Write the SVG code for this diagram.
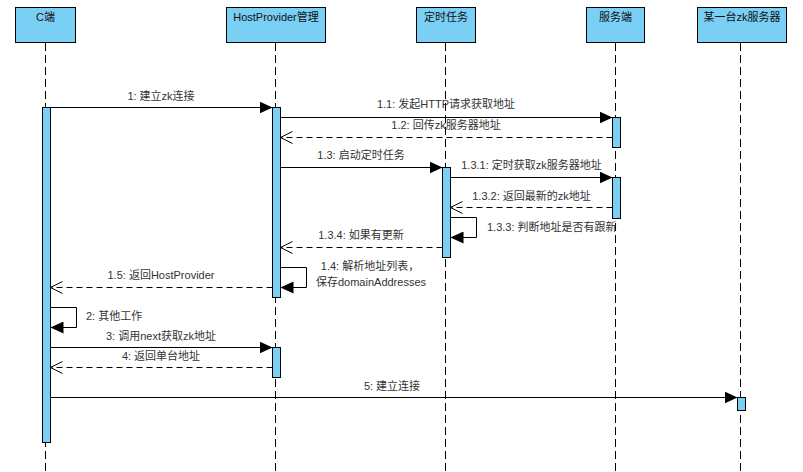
<svg xmlns="http://www.w3.org/2000/svg" width="803" height="472" viewBox="0 0 803 472">
<style>
.box{fill:#7ACFF5;stroke:#000;stroke-width:1}
.bar{fill:#7ACFF5;stroke:#000;stroke-width:1}
.life{stroke:#000;stroke-width:1;stroke-dasharray:8,4;fill:none}
.msg{stroke:#000;stroke-width:1;fill:none}
.ret{stroke:#000;stroke-width:1;fill:none;stroke-dasharray:6,4}
text{font-family:"Liberation Sans","Noto Sans CJK SC",sans-serif;font-size:11px;fill:#333}
.c{text-anchor:middle}
.h{text-anchor:middle;fill:#111}
</style>
<defs>
<marker id="fa" viewBox="0 0 13 12" refX="13" refY="6" markerWidth="13" markerHeight="12" orient="auto" markerUnits="userSpaceOnUse"><path d="M0,0 L13,6 L0,12 Z" fill="#000"/></marker>
<marker id="oa" viewBox="-1 -1 14 14" refX="12" refY="6" markerWidth="14" markerHeight="14" orient="auto" markerUnits="userSpaceOnUse"><path d="M0,0 L12,6 L0,12" fill="none" stroke="#000" stroke-width="1"/></marker>
</defs>
<rect width="803" height="472" fill="#fff"/>
<g id="lifelines">
<line class="life" x1="45.5" y1="43" x2="45.5" y2="472"/>
<line class="life" x1="275.5" y1="43" x2="275.5" y2="472"/>
<line class="life" x1="445.5" y1="43" x2="445.5" y2="472"/>
<line class="life" x1="615.5" y1="43" x2="615.5" y2="472"/>
<line class="life" x1="740.5" y1="43" x2="740.5" y2="472"/>
</g>
<g id="node-c"><rect class="box" x="15.5" y="7.5" width="60" height="35"/><text class="h" x="45.5" y="21">C端</text><rect class="bar" x="42.5" y="107.5" width="8" height="335"/></g>
<g id="node-hostprovider"><rect class="box" x="226.5" y="7.5" width="99" height="35"/><text class="h" x="276" y="21">HostProvider管理</text><rect class="bar" x="272.5" y="107.5" width="8" height="190"/><rect class="bar" x="272.5" y="347.5" width="8" height="30"/></g>
<g id="node-timer"><rect class="box" x="416.5" y="7.5" width="59" height="35"/><text class="h" x="446" y="21">定时任务</text><rect class="bar" x="442.5" y="167.5" width="8" height="90"/></g>
<g id="node-server"><rect class="box" x="586.5" y="7.5" width="58" height="35"/><text class="h" x="615.5" y="21">服务端</text><rect class="bar" x="612.5" y="117.5" width="8" height="30"/><rect class="bar" x="612.5" y="177.5" width="8" height="41"/></g>
<g id="node-zkserver"><rect class="box" x="697.5" y="7.5" width="89" height="35"/><text class="h" x="742" y="21">某一台zk服务器</text><rect class="bar" x="737.5" y="397.5" width="8" height="13"/></g>
<g id="connectors">
<line class="msg" x1="50.5" y1="107.5" x2="272.5" y2="107.5" marker-end="url(#fa)"/>
<text class="c" x="161" y="100">1: 建立zk连接</text>
<line class="msg" x1="280.5" y1="117.5" x2="612.5" y2="117.5" marker-end="url(#fa)"/>
<text class="c" x="446" y="108">1.1: 发起HTTP请求获取地址</text>
<line class="ret" x1="612.5" y1="137.5" x2="280.5" y2="137.5" marker-end="url(#oa)"/>
<text class="c" x="446" y="129">1.2: 回传zk服务器地址</text>
<line class="msg" x1="280.5" y1="167.5" x2="442.5" y2="167.5" marker-end="url(#fa)"/>
<text class="c" x="361" y="159">1.3: 启动定时任务</text>
<line class="msg" x1="450.5" y1="177.5" x2="612.5" y2="177.5" marker-end="url(#fa)"/>
<text class="c" x="531.5" y="169">1.3.1: 定时获取zk服务器地址</text>
<line class="ret" x1="612.5" y1="207.5" x2="450.5" y2="207.5" marker-end="url(#oa)"/>
<text class="c" x="531.5" y="200">1.3.2: 返回最新的zk地址</text>
<polyline class="msg" points="450.5,217.5 476.5,217.5 476.5,237.5 450.5,237.5" marker-end="url(#fa)"/>
<text x="487" y="231">1.3.3: 判断地址是否有跟新</text>
<line class="ret" x1="442.5" y1="247.5" x2="280.5" y2="247.5" marker-end="url(#oa)"/>
<text class="c" x="361" y="239">1.3.4: 如果有更新</text>
<polyline class="msg" points="280.5,267.5 306.5,267.5 306.5,287.5 280.5,287.5" marker-end="url(#fa)"/>
<text class="c" x="370" y="270">1.4: 解析地址列表，</text>
<text class="c" x="371" y="286">保存domainAddresses</text>
<line class="ret" x1="272.5" y1="287.5" x2="50.5" y2="287.5" marker-end="url(#oa)"/>
<text class="c" x="161" y="279">1.5: 返回HostProvider</text>
<polyline class="msg" points="50.5,307.5 76.5,307.5 76.5,327.5 50.5,327.5" marker-end="url(#fa)"/>
<text x="86" y="320">2: 其他工作</text>
<line class="msg" x1="50.5" y1="347.5" x2="272.5" y2="347.5" marker-end="url(#fa)"/>
<text class="c" x="161" y="340">3: 调用next获取zk地址</text>
<line class="ret" x1="272.5" y1="367.5" x2="50.5" y2="367.5" marker-end="url(#oa)"/>
<text class="c" x="161" y="360">4: 返回单台地址</text>
<line class="msg" x1="50.5" y1="397.5" x2="737.5" y2="397.5" marker-end="url(#fa)"/>
<text class="c" x="392" y="390">5: 建立连接</text>
</g>
</svg>
